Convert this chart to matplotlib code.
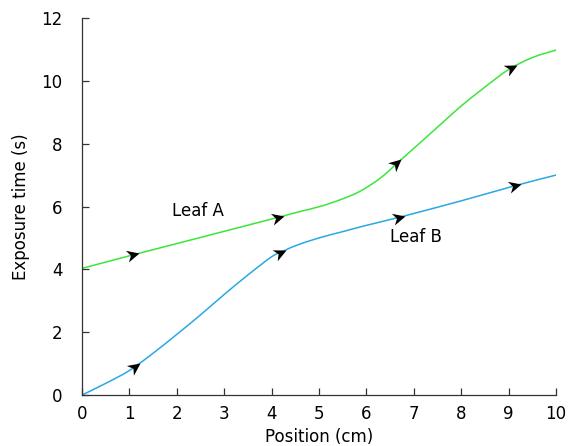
import numpy as np
import matplotlib
matplotlib.use('Agg')
import matplotlib.pyplot as plt
from matplotlib.path import Path
from matplotlib.patches import PathPatch
from matplotlib.markers import MarkerStyle
from matplotlib.transforms import Affine2D

# Leaf A (green)
leafA_x = [0.0, 1.0, 2.0, 3.0, 4.25, 4.6, 5.02, 5.44, 5.86, 6.29, 6.71, 7.2, 7.6, 8.0, 8.5, 9.0, 9.5, 10.0]
leafA_y = [4.03, 4.43, 4.82, 5.21, 5.70, 5.84, 6.0, 6.21, 6.48, 6.9, 7.46, 8.12, 8.66, 9.2, 9.8, 10.36, 10.74, 10.98]

# Leaf B (blue)
leafB_x = [0.0, 0.5, 1.0, 1.5, 2.0, 2.5, 3.0, 3.5, 4.0, 4.25, 4.5, 5.0, 5.5, 6.0, 6.7, 8.0, 9.13, 10.0]
leafB_y = [0.0, 0.37, 0.78, 1.33, 1.93, 2.55, 3.2, 3.82, 4.4, 4.58, 4.75, 5.0, 5.2, 5.4, 5.66, 6.18, 6.66, 7.0]

# arrow tip positions
arrowA_x = [1.2, 4.27, 6.74, 9.18]
arrowB_x = [1.22, 4.3, 6.81, 9.27]

xticks = list(range(0, 11))
yticks = [0, 2, 4, 6, 8, 10, 12]

green = '#3be63b'
blue = '#2aa8e2'

plt.rcParams['font.family'] = 'DejaVu Sans'
plt.rcParams['font.size'] = 12

fig = plt.figure(figsize=(5.7, 4.46), dpi=100)
ax = fig.add_axes([82/570, 51/446, 474/570, 377/446])


def smooth_path(xs, ys):
    # Catmull-Rom through the read points, drawn as cubic Bezier segments
    p = np.column_stack([xs, ys])
    verts = [p[0]]
    codes = [Path.MOVETO]
    n = len(p)
    for i in range(n - 1):
        pm = p[i - 1] if i > 0 else p[i]
        pp = p[i + 2] if i + 2 < n else p[i + 1]
        c1 = p[i] + (p[i + 1] - pm) / 6.0
        c2 = p[i + 1] - (pp - p[i]) / 6.0
        verts += [c1, c2, p[i + 1]]
        codes += [Path.CURVE4] * 3
    return Path(verts, codes)


ax.add_patch(PathPatch(smooth_path(leafA_x, leafA_y), fill=False, edgecolor=green, lw=1.1))
ax.add_patch(PathPatch(smooth_path(leafB_x, leafB_y), fill=False, edgecolor=blue, lw=1.1))

ax.set_xlim(0, 10)
ax.set_ylim(0, 12)
ax.set_xticks(xticks)
ax.set_yticks(yticks)
ax.spines['top'].set_visible(False)
ax.spines['right'].set_visible(False)
ax.tick_params(direction='in', length=5, width=0.9, color='#333333', labelcolor='black')
ax.tick_params(axis='y', pad=14)
ax.tick_params(axis='x', pad=7)
for s in ax.spines.values():
    s.set_linewidth(0.9)
    s.set_color('#333333')

ax.set_xlabel('Position (cm)', labelpad=4)
ax.set_ylabel('Exposure time (s)', labelpad=8)

ax.text(1.9, 5.86, 'Leaf A', va='center', ha='left')
ax.text(6.5, 5.04, 'Leaf B', va='center', ha='left')

# stealth-like arrowhead, pointing to +x, tip at the origin
head = Path([(0, 0), (-1.0, 0.48), (-0.7, 0), (-1.0, -0.48), (0, 0)],
            [Path.MOVETO, Path.LINETO, Path.LINETO, Path.LINETO, Path.CLOSEPOLY])

fig.canvas.draw()
for xs, ys, tips in [(leafA_x, leafA_y, arrowA_x), (leafB_x, leafB_y, arrowB_x)]:
    for xa in tips:
        ya = np.interp(xa, xs, ys)
        p0 = ax.transData.transform((xa - 0.15, np.interp(xa - 0.15, xs, ys)))
        p1 = ax.transData.transform((xa, ya))
        ang = np.degrees(np.arctan2(p1[1] - p0[1], p1[0] - p0[0]))
        m = MarkerStyle(head, transform=Affine2D().rotate_deg(ang))
        ax.plot([xa], [ya], marker=m, markersize=18, color='black',
                markeredgewidth=0, zorder=5, clip_on=False)

fig.savefig('out.png', dpi=100)
